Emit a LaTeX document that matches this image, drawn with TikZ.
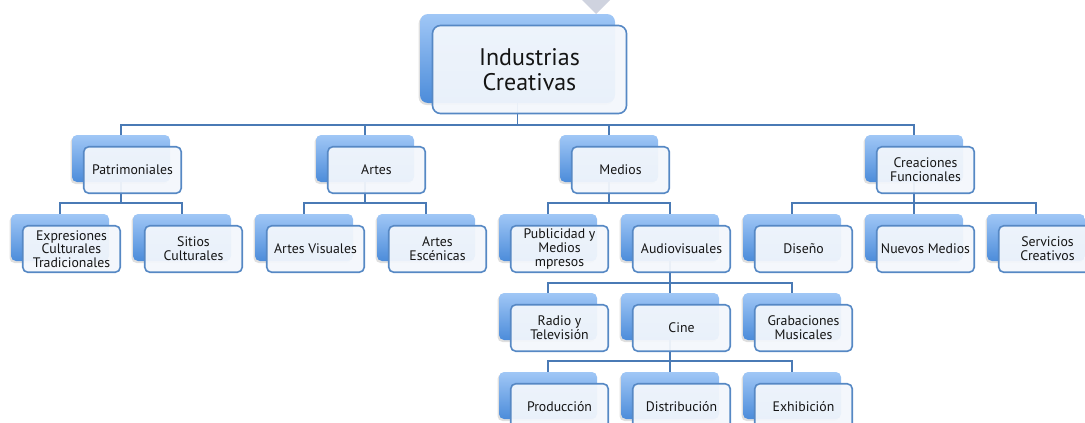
\documentclass[tikz,border=0pt]{standalone}
\usepackage{fontspec}
\setmainfont{PT Sans}
\usetikzlibrary{shadows}
\pgfdeclarelayer{bg}
\pgfsetlayers{bg,main}
\definecolor{conn}{HTML}{4A7AB5}
\definecolor{frameb}{HTML}{5688C4}
\definecolor{fillf}{HTML}{F3F7FC}
\definecolor{backtop}{HTML}{A0C7F6}
\definecolor{backbot}{HTML}{4C8CDA}
\definecolor{tri}{HTML}{CFD3DF}
\definecolor{txt}{HTML}{151515}
\tikzset{
 backbox/.style={rounded corners=5pt, top color=backtop, bottom color=backbot,
   minimum width=98pt, minimum height=47pt, inner sep=0pt,
   drop shadow={shadow xshift=-1.5pt, shadow yshift=-2pt, opacity=0.25}},
 frontbox/.style={rounded corners=5pt, draw=frameb, line width=1.6pt, fill=fillf,
   fill opacity=0.94, text opacity=1, minimum width=97.5pt, minimum height=46.5pt,
   inner sep=0pt, align=center, font=\fontsize{13.8}{13.8}\selectfont, text=txt},
 topback/.style={backbox, minimum width=195pt, minimum height=89pt, rounded corners=8pt},
 topfront/.style={frontbox, minimum width=194pt, minimum height=88pt, rounded corners=8pt,
   font=\fontsize{24}{24.5}\selectfont},
 link/.style={draw=conn, line width=1.9pt},
}
\newcommand\ubox[4]{%
  \node[backbox] (b#1) at (#2,#3) {};
  \node[frontbox] (f#1) at (#2+11.5,#3+11.5) {#4};}
\begin{document}
\begin{tikzpicture}[x=1pt,y=-1pt]
\clip (0,0) rectangle (1085,423);
\fill[tri] (582,0) -- (610,0) -- (596,14) -- cycle;
% top
\node[topback] (bTop) at (517.5,58.5) {};
\node[topfront] (fTop) at (529.5,69.5) {Industrias\\Creativas};
% level 1
\ubox{Pat}{121}{158.5}{Patrimoniales}
\ubox{Art}{365}{158.5}{Artes}
\ubox{Med}{609}{158.5}{Medios}
\ubox{Cre}{914}{158.5}{Creaciones\\Funcionales}
% level 2
\ubox{Exp}{60}{237.5}{Expresiones\\Culturales\\Tradicionales}
\ubox{Sit}{182}{237.5}{Sitios\\Culturales}
\ubox{AVi}{304}{237.5}{Artes Visuales}
\ubox{AEs}{426}{237.5}{Artes\\Escénicas}
\ubox{Pub}{548}{237.5}{Publicidad y\\Medios\\mpresos}
\ubox{Aud}{670}{237.5}{Audiovisuales}
\ubox{Dis}{792}{237.5}{Diseño}
\ubox{Nue}{914}{237.5}{Nuevos Medios}
\ubox{Ser}{1036}{237.5}{Servicios\\Creativos}
% level 3
\ubox{Rad}{548}{316.5}{Radio y\\Televisión}
\ubox{Cin}{670}{316.5}{Cine}
\ubox{Gra}{792}{316.5}{Grabaciones\\Musicales}
% level 4
\ubox{Pro}{548}{395.5}{Producción}
\ubox{Dtr}{670}{395.5}{Distribución}
\ubox{Exh}{792}{395.5}{Exhibición}
\begin{pgfonlayer}{bg}
\foreach \c in {Pat,Art,Med,Cre}{\draw[link] (bTop.south) -- ++(0,22) -| (b\c.north);}
\foreach \c in {Exp,Sit}{\draw[link] (bPat.south) -- ++(0,21) -| (b\c.north);}
\foreach \c in {AVi,AEs}{\draw[link] (bArt.south) -- ++(0,21) -| (b\c.north);}
\foreach \c in {Pub,Aud}{\draw[link] (bMed.south) -- ++(0,21) -| (b\c.north);}
\foreach \c in {Dis,Nue,Ser}{\draw[link] (bCre.south) -- ++(0,21) -| (b\c.north);}
\foreach \c in {Rad,Cin,Gra}{\draw[link] (bAud.south) -- ++(0,22) -| (b\c.north);}
\foreach \c in {Pro,Dtr,Exh}{\draw[link] (bCin.south) -- ++(0,21) -| (b\c.north);}
\end{pgfonlayer}
\end{tikzpicture}
\end{document}
